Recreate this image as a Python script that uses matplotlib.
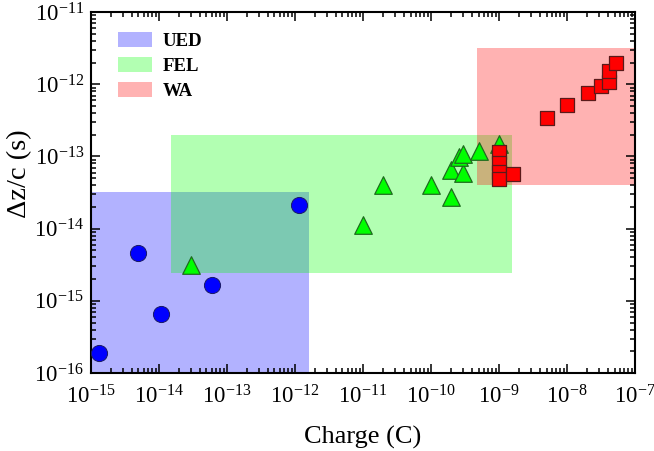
import matplotlib
matplotlib.use('Agg')
import matplotlib.pyplot as plt
from matplotlib.patches import Rectangle, Patch
from matplotlib.ticker import LogLocator, NullFormatter

plt.rcParams['font.family'] = ['Liberation Serif', 'DejaVu Serif']
plt.rcParams['mathtext.fontset'] = 'custom'
plt.rcParams['mathtext.rm'] = 'Liberation Serif'
plt.rcParams['mathtext.it'] = 'Liberation Serif:italic'
plt.rcParams['mathtext.bf'] = 'Liberation Serif:bold'

# Regions (shaded rectangles)
region_names = ['UED', 'FEL', 'WA']
region_x = [(1e-15, 1.6e-12), (1.5e-14, 1.55e-9), (4.75e-10, 1e-7)]
region_y = [(1e-16, 3.2e-14), (2.4e-15, 2.0e-13), (4.0e-14, 3.2e-12)]
region_colors = ['#0000ff', '#00ff00', '#ff0000']

# UED points (blue circles)
ued_q = [1.31e-15, 4.96e-15, 1.08e-14, 6.08e-14, 1.16e-12]
ued_t = [1.87e-16, 4.55e-15, 6.5e-16, 1.66e-15, 2.12e-14]

# FEL points (green triangles)
fel_q = [2.99e-14, 1.01e-11, 1.95e-11, 1.0e-10, 2.0e-10, 2.0e-10, 3.0e-10, 2.6e-10, 3.0e-10, 5.08e-10, 1.0e-9]
fel_t = [3.1e-15, 1.12e-14, 4.0e-14, 4.0e-14, 2.77e-14, 6.5e-14, 6.0e-14, 9.9e-14, 1.1e-13, 1.2e-13, 1.49e-13]

# WA points (red squares)
wa_q = [1.0e-9, 1.0e-9, 1.0e-9, 1.0e-9, 1.62e-9, 5.08e-9, 1.0e-8, 2.04e-8, 3.13e-8, 4.15e-8, 4.15e-8, 5.25e-8]
wa_t = [1.14e-13, 8.0e-14, 6.1e-14, 4.8e-14, 5.65e-14, 3.43e-13, 5.1e-13, 7.5e-13, 9.4e-13, 1.08e-12, 1.54e-12, 1.95e-12]

fig = plt.figure(figsize=(6.54, 4.51), dpi=100)
ax = fig.add_axes([0.139, 0.173, 0.832, 0.800])
ax.set_xscale('log')
ax.set_yscale('log')
ax.set_xlim(1e-15, 1e-7)
ax.set_ylim(1e-16, 1e-11)

for (x0, x1), (y0, y1), c in zip(region_x, region_y, region_colors):
    ax.add_patch(Rectangle((x0, y0), x1 - x0, y1 - y0, facecolor=c, alpha=0.3,
                           edgecolor='none', zorder=1))

ax.scatter(ued_q, ued_t, s=135, marker='o', color='#0000ff', edgecolors='#1a1a66',
           linewidths=0.7, zorder=3)
ax.scatter(fel_q, fel_t, s=160, marker='^', color='#00ff00', edgecolors='#1f6b1f',
           linewidths=0.9, zorder=4)
ax.scatter(wa_q, wa_t, s=98, marker='s', color='#ff0000', edgecolors='#5a1a1a',
           linewidths=0.9, zorder=5)

handles = [Patch(facecolor=c, alpha=0.3, edgecolor='none') for c in region_colors]
leg = ax.legend(handles, region_names, loc='upper left', frameon=False,
                prop={'weight': 'bold', 'size': 13.5}, handlelength=1.8, handleheight=0.85,
                labelspacing=0.38, handletextpad=0.6, borderaxespad=0, borderpad=0,
                bbox_to_anchor=(0.0496, 0.945))

ax.set_xlabel('Charge (C)', fontsize=19)
ax.xaxis.label.set_va('baseline')
ax.xaxis.set_label_coords(0.5, -0.197)
ax.set_ylabel('Δz/c (s)', fontsize=20.5)
ax.yaxis.set_label_coords(-0.108, 0.551)

ax.xaxis.set_major_locator(LogLocator(base=10, numticks=20))
ax.yaxis.set_major_locator(LogLocator(base=10, numticks=20))
ax.xaxis.set_minor_locator(LogLocator(base=10, subs=range(2, 10), numticks=20))
ax.yaxis.set_minor_locator(LogLocator(base=10, subs=range(2, 10), numticks=20))
ax.xaxis.set_minor_formatter(NullFormatter())
ax.yaxis.set_minor_formatter(NullFormatter())

ax.tick_params(which='both', direction='in', top=True, right=True, width=1.1)
ax.tick_params(which='major', length=6.5, labelsize=16.5)
ax.tick_params(axis='x', which='major', pad=9)
ax.tick_params(axis='y', which='major', pad=5)
ax.tick_params(which='minor', length=3.5)
for s in ax.spines.values():
    s.set_linewidth(1.5)

fig.savefig('out.png', dpi=100)
